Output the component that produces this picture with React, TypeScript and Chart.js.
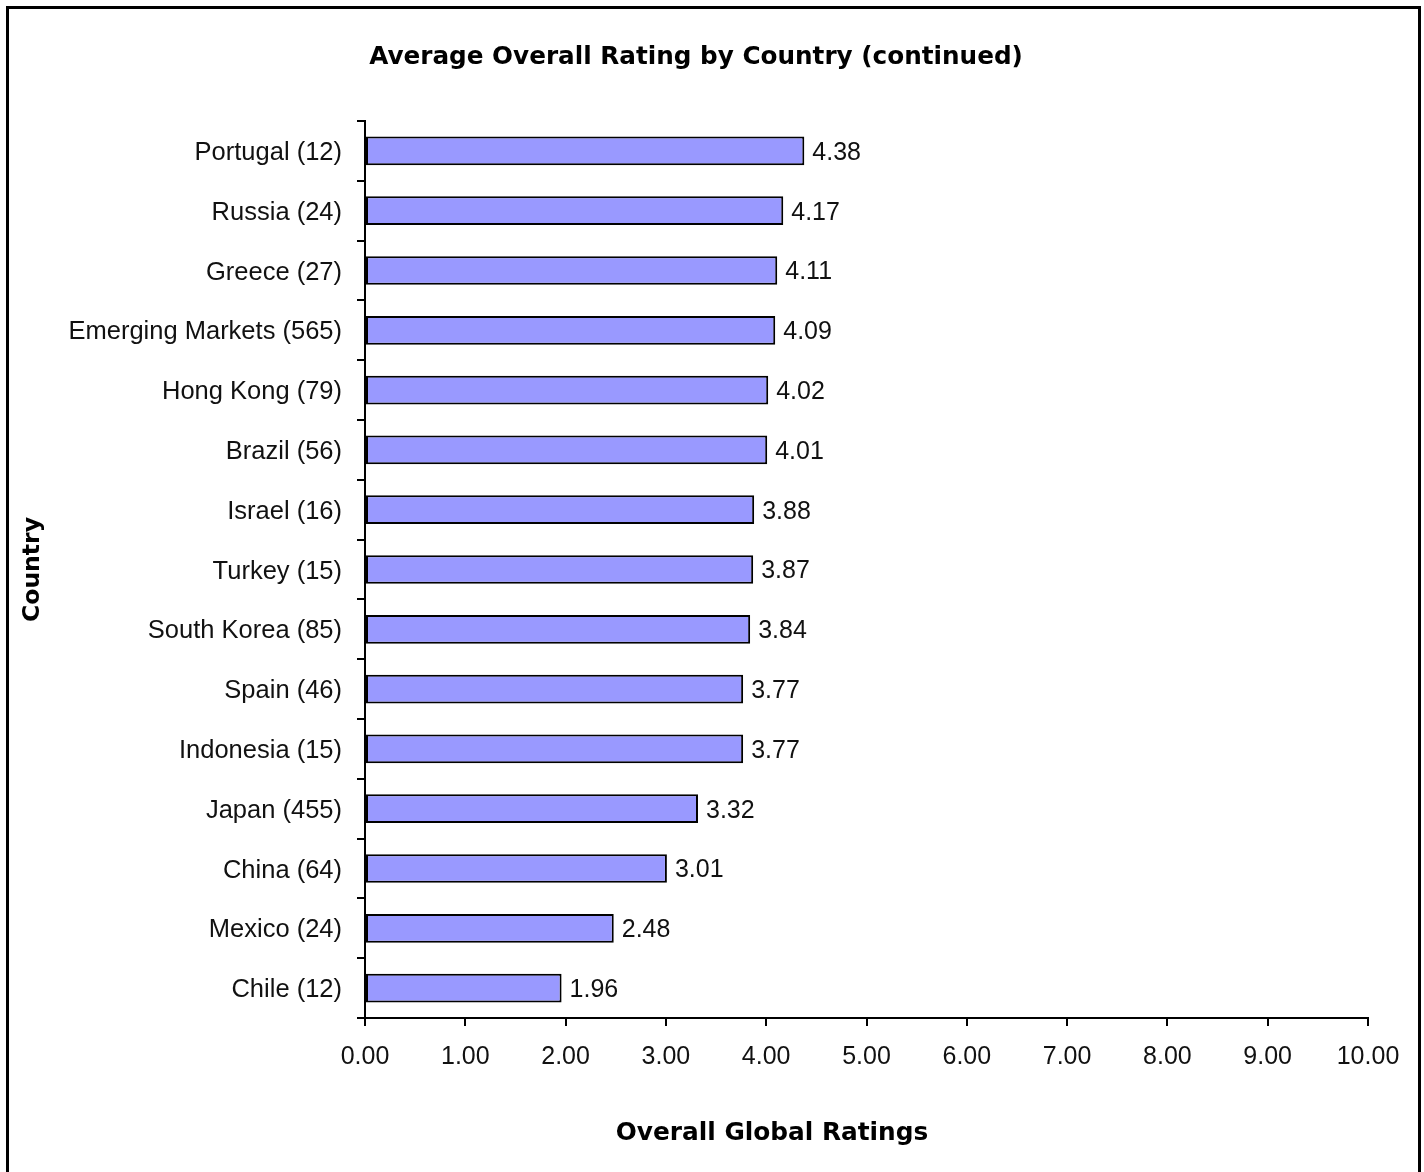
import React, { useEffect, useRef } from "react";
import { Chart, registerables } from "chart.js";

Chart.register(...registerables);

const countries = [
  "Portugal (12)",
  "Russia (24)",
  "Greece (27)",
  "Emerging Markets (565)",
  "Hong Kong (79)",
  "Brazil (56)",
  "Israel (16)",
  "Turkey (15)",
  "South Korea (85)",
  "Spain (46)",
  "Indonesia (15)",
  "Japan (455)",
  "China (64)",
  "Mexico (24)",
  "Chile (12)",
];

const ratings = [4.38, 4.17, 4.11, 4.09, 4.02, 4.01, 3.88, 3.87, 3.84, 3.77, 3.77, 3.32, 3.01, 2.48, 1.96];

const xMin = 0;
const xMax = 10;
const xStep = 1;

const chartTitle = "Average Overall Rating by Country (continued)";
const xAxisTitle = "Overall Global Ratings";
const yAxisTitle = "Country";

const LABEL_FONT = '"Liberation Sans", Arial, sans-serif';
const TITLE_FONT = '"DejaVu Sans", Verdana, sans-serif';

export default function App() {
  const canvasRef = useRef<HTMLCanvasElement | null>(null);

  useEffect(() => {
    const canvas = canvasRef.current;
    if (!canvas) return;

    const textPlugin = {
      id: "customText",
      afterDatasetsDraw(chart: any) {
        const ctx = chart.ctx;
        const meta = chart.getDatasetMeta(0);
        ctx.save();
        ctx.font = `25px ${LABEL_FONT}`;
        ctx.fillStyle = "#111";
        ctx.textAlign = "left";
        ctx.textBaseline = "middle";
        meta.data.forEach((bar: any, i: number) => {
          ctx.fillText(ratings[i].toFixed(2), bar.x + 8, bar.y + 2);
        });
        ctx.restore();
      },
      afterDraw(chart: any) {
        const ctx = chart.ctx;
        ctx.save();
        ctx.fillStyle = "#000";
        ctx.textAlign = "center";
        ctx.textBaseline = "middle";
        ctx.font = `bold 24.7px ${TITLE_FONT}`;
        ctx.fillText(chartTitle, 696, 58);
        ctx.font = `bold 24.8px ${TITLE_FONT}`;
        ctx.fillText(xAxisTitle, 772, 1134);
        ctx.restore();
      },
    };

    const chart = new Chart(canvas, {
      type: "bar",
      data: {
        labels: countries,
        datasets: [
          {
            data: ratings,
            backgroundColor: "#9999FF",
            borderColor: "#000",
            borderWidth: 2,
            borderSkipped: false,
            categoryPercentage: 1,
            barPercentage: 0.48,
          },
        ],
      },
      options: {
        indexAxis: "y",
        animation: false,
        responsive: false,
        maintainAspectRatio: false,
        events: [],
        layout: { padding: { top: 121, right: 56, left: 0, bottom: 0 } },
        plugins: {
          legend: { display: false },
          title: { display: false },
          tooltip: { enabled: false },
        },
        scales: {
          x: {
            type: "linear",
            min: xMin,
            max: xMax,
            ticks: {
              stepSize: xStep,
              color: "#111",
              font: { family: LABEL_FONT, size: 25 },
              padding: 16,
              callback: (v: any) => Number(v).toFixed(2),
            },
            grid: {
              drawOnChartArea: false,
              drawTicks: true,
              tickLength: 8,
              color: "#000",
              lineWidth: 2,
            },
            border: { display: true, color: "#000", width: 2 },
            afterFit: (scale: any) => {
              scale.height = 154;
            },
          },
          y: {
            type: "category",
            ticks: {
              color: "#111",
              font: { family: LABEL_FONT, size: 25.5 },
              padding: 15,
              labelOffset: 2,
            },
            grid: {
              drawOnChartArea: false,
              drawTicks: true,
              tickLength: 8,
              color: "#000",
              lineWidth: 2,
              offset: true,
            },
            border: { display: true, color: "#000", width: 2 },
            title: {
              display: true,
              text: yAxisTitle,
              color: "#000",
              font: { family: TITLE_FONT, size: 23.5, weight: "bold" },
              padding: { top: 19, bottom: 0 },
            },
            afterFit: (scale: any) => {
              scale.width = 365;
            },
          },
        },
      },
      plugins: [textPlugin],
    });

    return () => {
      chart.destroy();
    };
  }, []);

  return (
    <div
      style={{
        position: "absolute",
        left: 0,
        top: 0,
        width: 1424,
        height: 1172,
        overflow: "hidden",
        background: "#fff",
      }}
    >
      <canvas
        ref={canvasRef}
        width={1424}
        height={1172}
        style={{ position: "absolute", left: 0, top: 0, width: 1424, height: 1172 }}
      />
      <div
        style={{
          position: "absolute",
          left: 6,
          top: 6,
          width: 1415,
          height: 1200,
          border: "3px solid #000",
          boxSizing: "border-box",
          pointerEvents: "none",
        }}
      />
    </div>
  );
}
